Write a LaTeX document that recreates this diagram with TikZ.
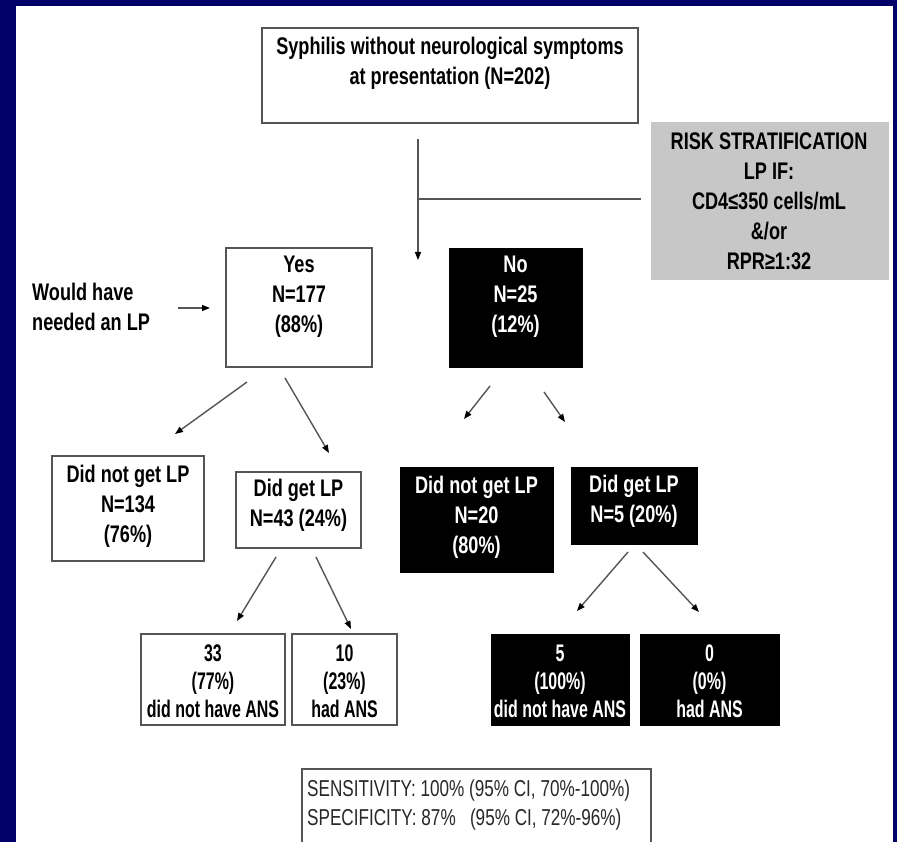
\documentclass[tikz,border=0pt]{standalone}
\usepackage{fontspec}
\setmainfont[FakeStretch=0.755]{Liberation Sans}
\newfontfamily\narrowfam[FakeStretch=0.665]{Liberation Sans}
\newfontfamily\sensfam[FakeStretch=0.745]{Liberation Sans}
\usetikzlibrary{arrows.meta}
\definecolor{navy}{RGB}{0,0,104}
\definecolor{linegray}{RGB}{85,85,85}
\definecolor{riskgray}{RGB}{199,199,199}
\definecolor{senstext}{RGB}{40,40,40}
\begin{document}
\begin{tikzpicture}[x=1pt,y=-1pt,
 wbox/.style={draw=linegray,line width=1.4pt,fill=white,inner sep=0pt,outer sep=0pt},
 bbox/.style={draw=black,fill=black,inner sep=0pt,outer sep=0pt},
 gbox/.style={fill=riskgray,inner sep=0pt,outer sep=0pt},
 txt/.style={font=\bfseries\fontsize{24}{30}\selectfont,align=center,inner sep=0pt},
 ntxt/.style={font=\narrowfam\bfseries\fontsize{24}{28}\selectfont,align=center,inner sep=0pt},
 conn/.style={draw=linegray,line width=1.4pt},
 arr/.style={conn,-{Triangle[length=8pt,width=6pt,color=black]}}]
\useasboundingbox (0,0) rectangle (897,842);
\fill[navy] (0,0) rectangle (897,842);
\fill[white] (16,6) rectangle (893,842);

% top box
\node[wbox,minimum width=376pt,minimum height=95pt] (top) at (450,75.5) {};
\node[txt] (topt) at (450,63) {Syphilis without neurological symptoms\\at presentation (N=202)};

% risk box
\node[gbox,minimum width=238pt,minimum height=158pt] (risk) at (770,201) {};
\node[txt] (riskt) at (769,201) {RISK STRATIFICATION\\LP IF:\\CD4≤350 cells/mL\\\&/or\\RPR≥1:32};

% yes / no
\node[wbox,minimum width=146pt,minimum height=119pt] (yes) at (299,307.5) {};
\node[txt] (yest) at (299,297) {Yes\\N=177\\(88\%)};
\node[bbox,minimum width=133pt,minimum height=119pt] (no) at (515.5,307.5) {};
\node[txt,text=white] (not) at (515.5,297) {No\\N=25\\(12\%)};

\node[txt,align=left,anchor=west] (would) at (32,307) {Would have\\needed an LP};

% second level
\node[wbox,minimum width=152pt,minimum height=105pt] (dng1) at (128,508.5) {};
\node[txt] (dng1t) at (128,506) {Did not get LP\\N=134\\(76\%)};
\node[wbox,minimum width=125pt,minimum height=76pt] (dg1) at (298.5,510) {};
\node[txt] (dg1t) at (298.5,505) {Did get LP\\N=43 (24\%)};
\node[bbox,minimum width=153pt,minimum height=105pt] (dng2) at (476.5,519.5) {};
\node[txt,text=white] (dng2t) at (476.5,517) {Did not get LP\\N=20\\(80\%)};
\node[bbox,minimum width=126pt,minimum height=77pt] (dg2) at (634,505.5) {};
\node[txt,text=white] (dg2t) at (634,501) {Did get LP\\N=5 (20\%)};

% third level
\node[wbox,minimum width=144pt,minimum height=91pt] (a1) at (213,679.5) {};
\node[ntxt] (a1t) at (213,681) {33\\(77\%)\\did not have ANS};
\node[wbox,minimum width=105pt,minimum height=91pt] (b1) at (344.5,679.5) {};
\node[ntxt] (b1t) at (344.5,681) {10\\(23\%)\\had ANS};
\node[bbox,minimum width=138pt,minimum height=91pt] (a2) at (560,679.5) {};
\node[ntxt,text=white] (a2t) at (560,681) {5\\(100\%)\\did not have ANS};
\node[bbox,minimum width=139pt,minimum height=91pt] (b2) at (709.5,679.5) {};
\node[ntxt,text=white] (b2t) at (709.5,681) {0\\(0\%)\\had ANS};

% sensitivity box
\node[draw=linegray,line width=1.2pt,fill=white,inner sep=0pt,minimum width=349pt,minimum height=90pt] (sens) at (476.5,814) {};
\node[font=\sensfam\fontsize{23}{29}\selectfont,text=senstext,align=left,anchor=west,inner sep=0pt] (senst) at (307,805)
 {SENSITIVITY: 100\% (95\% CI, 70\%-100\%)\\SPECIFICITY: 87\%\ \ \ (95\% CI, 72\%-96\%)};

% connectors
\coordinate (vs) at (418,139);
\coordinate (ve) at (418,260);
\coordinate (hj) at (418,199);
\coordinate (he) at (641,199);
\draw[arr] (vs) -- (ve);
\draw[conn] (he) -- (hj);
\draw[arr,shorten <=28pt,shorten >=16pt] (would.east |- 0,308) -- (yes.west |- 0,308);

\coordinate (y1) at (247,382); \coordinate (y1e) at (175,434);
\coordinate (y2) at (285,378); \coordinate (y2e) at (329,453);
\coordinate (n1) at (490,386); \coordinate (n1e) at (464,419);
\coordinate (n2) at (544,392); \coordinate (n2e) at (565,422);
\coordinate (g1) at (276,557); \coordinate (g1e) at (237,621);
\coordinate (g2) at (316,557); \coordinate (g2e) at (351,629);
\coordinate (h1) at (628,552); \coordinate (h1e) at (577,611);
\coordinate (h2) at (643,552); \coordinate (h2e) at (699,612);
\draw[arr] (y1) -- (y1e);
\draw[arr] (y2) -- (y2e);
\draw[arr] (n1) -- (n1e);
\draw[arr] (n2) -- (n2e);
\draw[arr] (g1) -- (g1e);
\draw[arr] (g2) -- (g2e);
\draw[arr] (h1) -- (h1e);
\draw[arr] (h2) -- (h2e);
\end{tikzpicture}
\end{document}
